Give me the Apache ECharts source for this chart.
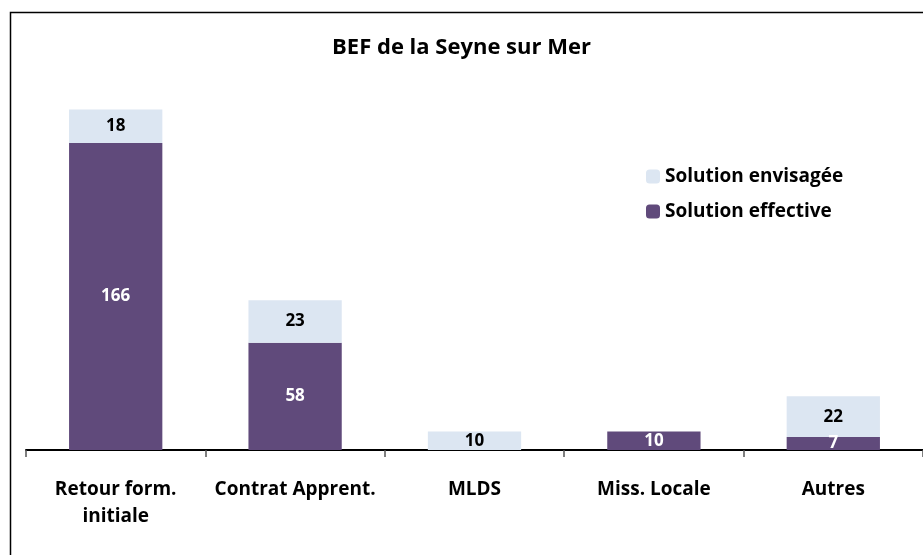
<!DOCTYPE html>
<html>
<head>
<meta charset="utf-8">
<script src="https://cdn.jsdelivr.net/npm/echarts@6/dist/echarts.min.js"></script>
<style>
  html, body { margin: 0; padding: 0; background: #fff; }
  #chart { width: 923px; height: 555px; }
</style>
</head>
<body>
<div id="chart"></div>
<script>
// categories and values
var categories = ['Retour form.\ninitiale', 'Contrat Apprent.', 'MLDS', 'Miss. Locale', 'Autres'];
var effective = [166, 58, 0, 10, 7];
var envisagee = [18, 23, 10, 0, 22];

var FONT = '"Open Sans", "Noto Sans", sans-serif';

var chart = echarts.init(document.getElementById('chart'));

// hide labels of empty segments
function labelFmt(p) {
	return p.value ? String(p.value) : '';
}

var option = {
	animation: false,
	backgroundColor: '#fff',
	title: {
		text: 'BEF de la Seyne sur Mer',
		left: 'center',
		top: 32,
		textStyle: { fontFamily: FONT, fontSize: 22, fontWeight: 'bold', color: '#000' }
	},
	legend: {
		orient: 'vertical',
		left: 641,
		top: 162,
		itemWidth: 14,
		itemHeight: 14,
		itemGap: 16,
		data: ['Solution envisagée', 'Solution effective'],
		textStyle: { fontFamily: FONT, fontSize: 19, fontWeight: 'bold', color: '#000' }
	},
	grid: { left: 26, right: -6, top: 80, bottom: 105 },
	xAxis: {
		type: 'category',
		data: categories,
		axisLine: { lineStyle: { color: '#000', width: 2 } },
		axisTick: { show: true, interval: 0, length: 7, lineStyle: { color: '#555', width: 1.5 } },
		axisLabel: {
			interval: 0,
			margin: 26,
			lineHeight: 27,
			fontFamily: FONT, fontSize: 19, fontWeight: 'bold', color: '#000'
		}
	},
	yAxis: {
		type: 'value',
		min: 0,
		max: 200,
		show: false,
		splitLine: { show: false }
	},
	series: [
		{
			name: 'Solution effective',
			type: 'bar',
			stack: 'total',
			barWidth: '52%',
			data: effective,
			itemStyle: { color: '#604a7b' },
			label: {
				show: true,
				position: 'inside',
				formatter: labelFmt,
				fontFamily: FONT, fontSize: 17, fontWeight: 'bold', color: '#fff'
			}
		},
		{
			name: 'Solution envisagée',
			type: 'bar',
			stack: 'total',
			barWidth: '52%',
			data: envisagee,
			itemStyle: { color: '#dce6f2' },
			label: {
				show: true,
				position: 'inside',
				formatter: labelFmt,
				fontFamily: FONT, fontSize: 17, fontWeight: 'bold', color: '#000'
			}
		}
	],
	graphic: [{
		type: 'rect',
		left: 8,
		top: 10,
		shape: { width: 930, height: 560 },
		style: { fill: null, stroke: '#000', lineWidth: 1.5 },
		silent: true
	}]
};

chart.setOption(option);
</script>
</body>
</html>
